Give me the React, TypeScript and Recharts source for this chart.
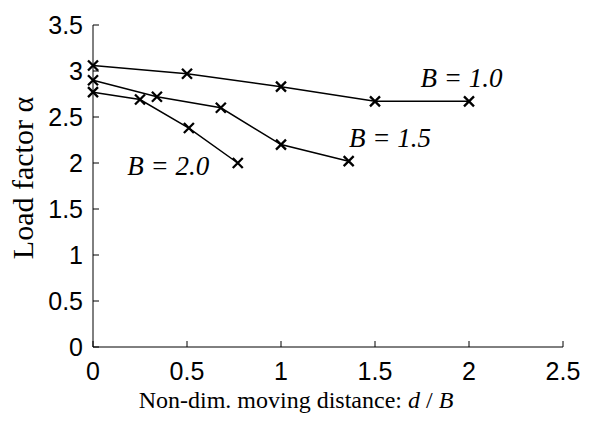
import React from "react";
import { LineChart, Line, XAxis, YAxis, ReferenceDot } from "recharts";

const xTicks = [0, 0.5, 1, 1.5, 2, 2.5];
const yTicks = [0, 0.5, 1, 1.5, 2, 2.5, 3, 3.5];

const b10X = [0, 0.5, 1, 1.5, 2];
const b10Y = [3.06, 2.97, 2.83, 2.67, 2.67];
const b15X = [0, 0.34, 0.68, 1.0, 1.36];
const b15Y = [2.9, 2.72, 2.6, 2.2, 2.02];
const b20X = [0, 0.25, 0.51, 0.77];
const b20Y = [2.77, 2.69, 2.38, 2.0];

const labels = [
  { x: 1.96, y: 2.83, text: "1.0" },
  { x: 1.58, y: 2.17, text: "1.5" },
  { x: 0.4, y: 1.87, text: "2.0" },
];

const xTitle = "Non-dim. moving distance: ";
const yTitle = "Load factor α";

const zip = (xs: number[], ys: number[]) => xs.map((x, i) => ({ x, y: ys[i] }));
const series = [zip(b10X, b10Y), zip(b15X, b15Y), zip(b20X, b20Y)];

const SANS = "'Liberation Sans', Arial, sans-serif";
const SERIF = "'Liberation Serif', 'Times New Roman', serif";
const TICK = 6;

const renderX = (props: any) => {
  const { cx, cy, key, index } = props;
  const s = 5;
  return (
    <path
      key={key ?? index}
      d={`M${cx - s},${cy - s}L${cx + s},${cy + s}M${cx - s},${cy + s}L${cx + s},${cy - s}`}
      stroke="#000"
      strokeWidth={2.3}
      fill="none"
    />
  );
};

const BottomTick = (props: any) => {
  const { x, y, payload } = props;
  return (
    <g>
      <line x1={x} y1={y} x2={x} y2={y - TICK} stroke="#000" strokeWidth={1} />
      <text x={x} y={y + 33} textAnchor="middle" fontFamily={SANS} fontSize={25} fill="#000">
        {payload.value}
      </text>
    </g>
  );
};
const TopTick = (props: any) => {
  const { x, y } = props;
  return <line x1={x} y1={y} x2={x} y2={y + TICK} stroke="#000" strokeWidth={1} />;
};
const LeftTick = (props: any) => {
  const { x, y, payload } = props;
  return (
    <g>
      <line x1={x} y1={y} x2={x + TICK} y2={y} stroke="#000" strokeWidth={1} />
      <text x={x - 10} y={y + 9} textAnchor="end" fontFamily={SANS} fontSize={25} fill="#000">
        {payload.value}
      </text>
    </g>
  );
};
const RightTick = (props: any) => {
  const { x, y } = props;
  return <line x1={x} y1={y} x2={x - TICK} y2={y} stroke="#000" strokeWidth={1} />;
};

const BLabel = (text: string) => (props: any) => {
  const vb = props.viewBox;
  const cx = vb.x + (vb.width || 0) / 2;
  const cy = vb.y + (vb.height || 0) / 2;
  return (
    <text x={cx} y={cy} textAnchor="middle" fontFamily={SERIF} fontStyle="italic" fontSize={27} fill="#000">
      B = {text}
    </text>
  );
};

export default function App() {
  return (
    <div style={{ position: "absolute", left: 0, top: 0, width: 594, height: 423, background: "#fff" }}>
      <LineChart width={594} height={423} margin={{ top: 25, right: 31, bottom: 0, left: 0 }}>
        <XAxis
          xAxisId="b"
          dataKey="x"
          type="number"
          domain={[0, 2.5]}
          ticks={xTicks}
          orientation="bottom"
          height={76}
          tickSize={0}
          tickMargin={0}
          tickLine={false}
          tick={<BottomTick />}
          axisLine={{ stroke: "#000", strokeWidth: 1 }}
          allowDuplicatedCategory={false}
        />
        <XAxis
          xAxisId="t"
          dataKey="x"
          type="number"
          domain={[0, 2.5]}
          ticks={xTicks}
          orientation="top"
          height={0}
          tickSize={0}
          tickMargin={0}
          tickLine={false}
          tick={<TopTick />}
          axisLine={{ stroke: "#000", strokeWidth: 1 }}
          allowDuplicatedCategory={false}
        />
        <YAxis
          yAxisId="l"
          type="number"
          domain={[0, 3.5]}
          ticks={yTicks}
          orientation="left"
          width={93}
          tickSize={0}
          tickMargin={0}
          tickLine={false}
          tick={<LeftTick />}
          axisLine={{ stroke: "#000", strokeWidth: 1 }}
        />
        <YAxis
          yAxisId="r"
          type="number"
          domain={[0, 3.5]}
          ticks={yTicks}
          orientation="right"
          width={0}
          tickSize={0}
          tickMargin={0}
          tickLine={false}
          tick={<RightTick />}
          axisLine={{ stroke: "#000", strokeWidth: 1 }}
        />
        {series.map((d, i) => (
          <Line
            key={i}
            xAxisId="b"
            yAxisId="l"
            data={d}
            dataKey="y"
            stroke="#000"
            strokeWidth={1.5}
            dot={renderX}
            activeDot={false}
            isAnimationActive={false}
          />
        ))}
        {labels.map((l, i) => (
          <ReferenceDot
            key={i}
            xAxisId="b"
            yAxisId="l"
            x={l.x}
            y={l.y}
            r={0}
            fill="none"
            stroke="none"
            label={{ content: BLabel(l.text) }}
          />
        ))}
      </LineChart>
      <svg
        width={594}
        height={423}
        style={{ position: "absolute", left: 0, top: 0, pointerEvents: "none" }}
      >
        <text x={296} y={408} textAnchor="middle" fontFamily={SERIF} fontSize={24} fill="#000">
          {xTitle}
          <tspan fontStyle="italic">d</tspan> / <tspan fontStyle="italic">B</tspan>
        </text>
        <text
          x={33}
          y={178}
          transform="rotate(-90 33 178)"
          textAnchor="middle"
          fontFamily={SERIF}
          fontSize={30}
          fill="#000"
        >
          {yTitle}
        </text>
      </svg>
    </div>
  );
}
